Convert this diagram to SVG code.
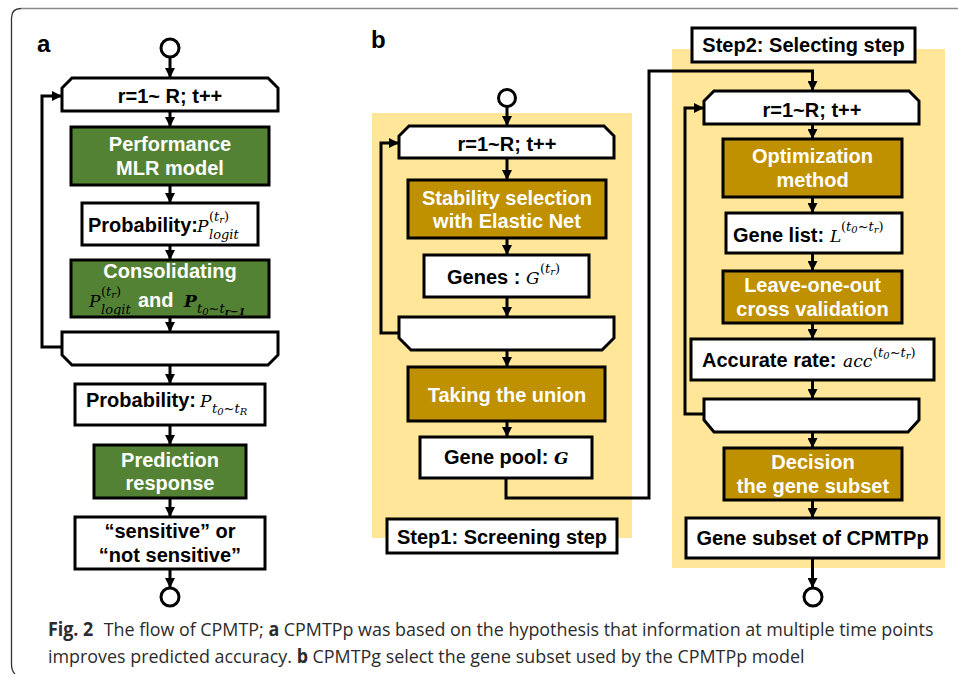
<svg xmlns="http://www.w3.org/2000/svg" width="958" height="674" viewBox="0 0 958 674">
<defs>
<style>
.t{font-family:"Liberation Sans",Arial,sans-serif;font-weight:bold;font-size:20px;text-anchor:middle;fill:#000}
.w{fill:#fff}
.s{text-anchor:start}
.m{font-family:"DejaVu Serif","Liberation Serif",serif;font-style:italic;fill:#000}
.n{font-style:normal}
.box{stroke:#000;stroke-width:3}
.wb{fill:#fff}
.gr{fill:#548235}
.gd{fill:#BF9000}
.bg{fill:#FFE699}
.c{fill:none;stroke:#000;stroke-width:3;marker-end:url(#ah)}
.cap{font-family:"Open Sans","Noto Sans",sans-serif;font-size:19px;fill:#2b2b2b}
.lbl{font-family:"Liberation Sans",Arial,sans-serif;font-weight:bold;font-size:24px;fill:#000}
</style>
<marker id="ah" markerUnits="userSpaceOnUse" markerWidth="10" markerHeight="10" refX="10" refY="5" orient="auto">
<path d="M0,0 L10,5 L0,10 z" fill="#000"/>
</marker>
</defs>

<g id="frame" fill="none">
<path d="M958,8.5 H21" stroke="#8a8a8a" stroke-width="1.3"/>
<path d="M21,8.5 Q11.5,8.5 11.5,18 V664 Q11.5,671 15,674" stroke="#333" stroke-width="1.3"/>
</g>

<g id="backgrounds">
<rect id="step1-bg" class="bg" x="372" y="113" width="260" height="425"/>
<rect id="step2-bg" class="bg" x="672" y="49" width="273" height="519"/>
</g>

<text class="lbl" x="37" y="52">a</text>
<text class="lbl" x="371" y="48">b</text>

<g id="connectors">
<path class="c" d="M170,57 V78"/>
<path class="c" d="M170,111 V127"/>
<path class="c" d="M170,185 V203"/>
<path class="c" d="M170,245 V260"/>
<path class="c" d="M170,317 V332"/>
<path class="c" d="M170,365 V384"/>
<path class="c" d="M170,425 V445"/>
<path class="c" d="M170,498 V517"/>
<path class="c" d="M170,569 V588"/>
<path class="c" d="M62,347 H42 V96 H62"/>

<path class="c" d="M507,107 V126"/>
<path class="c" d="M507,158 V180"/>
<path class="c" d="M507,238 V255"/>
<path class="c" d="M507,297 V317"/>
<path class="c" d="M507,350 V367"/>
<path class="c" d="M507,421 V437"/>
<path class="c" d="M506,478 V498 H649 V71 H812.5 V91"/>
<path class="c" d="M399,333 H381 V143 H399"/>

<path class="c" d="M812.5,124 V139"/>
<path class="c" d="M812.5,197 V213"/>
<path class="c" d="M812.5,253 V271"/>
<path class="c" d="M812.5,323 V339"/>
<path class="c" d="M812.5,380 V399"/>
<path class="c" d="M812.5,432 V448"/>
<path class="c" d="M812.5,500 V518"/>
<path class="c" d="M812.5,558 V588"/>
<path class="c" d="M704,414 H685 V108 H704"/>
</g>

<!-- Panel a -->
<g id="a-start"><circle class="box wb" cx="170" cy="48" r="9"/></g>
<g id="a-loop-start">
<polygon class="box wb" points="72,78 268,78 278,88 278,111 62,111 62,88"/>
<text class="t" x="170" y="103">r=1~ R; t++</text>
</g>
<g id="a-mlr">
<rect class="box gr" x="71" y="127" width="198" height="58"/>
<text class="t w" x="170" y="151">Performance</text>
<text class="t w" x="170" y="175">MLR model</text>
</g>
<g id="a-prob-logit">
<rect class="box wb" x="82" y="203" width="176" height="42"/>
<text class="t s" x="88" y="232" font-size="17.5">Probability:</text>
<text class="m" x="197" y="232" font-size="17">P</text>
<text class="m" x="209" y="221" font-size="13"><tspan class="n">(</tspan>t<tspan font-size="10" dy="2">r</tspan><tspan class="n" dy="-2">)</tspan></text>
<text class="m" x="209" y="239" font-size="13">logit</text>
</g>
<g id="a-consolidating">
<rect class="box gr" x="71" y="260" width="198" height="57"/>
<text class="t w" x="170" y="278">Consolidating</text>
<text class="m" x="89" y="307" font-size="17" fill="#fff">P</text>
<text class="m" x="101" y="296" font-size="13" fill="#fff"><tspan class="n">(</tspan>t<tspan font-size="10" dy="2">r</tspan><tspan class="n" dy="-2">)</tspan></text>
<text class="m" x="101" y="314" font-size="13" fill="#fff">logit</text>
<text class="t w s" x="138" y="307">and</text>
<text class="m" x="184" y="307" font-size="17" font-weight="bold" fill="#fff">P</text>
<text class="m" x="197" y="313" font-size="13" fill="#fff">t<tspan font-size="10" dy="2">0</tspan><tspan dy="-2">~t</tspan><tspan font-size="10" dy="2" font-weight="bold">r−1</tspan></text>
</g>
<g id="a-loop-end">
<polygon class="box wb" points="62,332 278,332 278,355 268,365 72,365 62,355"/>
</g>
<g id="a-prob-total">
<rect class="box wb" x="75" y="384" width="190" height="41"/>
<text class="t s" x="86" y="407" font-size="19.5">Probability:</text>
<text class="m" x="200" y="407" font-size="17">P</text>
<text class="m" x="212" y="413" font-size="13">t<tspan font-size="10" dy="2">0</tspan><tspan dy="-2">~t</tspan><tspan font-size="10" dy="2">R</tspan></text>
</g>
<g id="a-prediction">
<rect class="box gr" x="94" y="445" width="152" height="53"/>
<text class="t w" x="170" y="467">Prediction</text>
<text class="t w" x="170" y="490">response</text>
</g>
<g id="a-result">
<rect class="box wb" x="75" y="517" width="190" height="52"/>
<text class="t" x="170" y="538">“sensitive” or</text>
<text class="t" x="170" y="562">“not sensitive”</text>
</g>
<g id="a-end"><circle class="box wb" cx="170" cy="597" r="9"/></g>

<!-- Panel b step 1 -->
<g id="b-start"><circle class="box wb" cx="507" cy="98" r="8.5"/></g>
<g id="b1-loop-start">
<polygon class="box wb" points="409,126 604,126 614,136 614,158 399,158 399,136"/>
<text class="t" x="507" y="151">r=1~R; t++</text>
</g>
<g id="b1-stability">
<rect class="box gd" x="408" y="180" width="198" height="58"/>
<text class="t w" x="507" y="205">Stability selection</text>
<text class="t w" x="507" y="228">with Elastic Net</text>
</g>
<g id="b1-genes">
<rect class="box wb" x="424" y="255" width="165" height="42"/>
<text class="t s" x="447" y="284">Genes :</text>
<text class="m" x="526" y="284" font-size="17">G</text>
<text class="m" x="540" y="273" font-size="13"><tspan class="n">(</tspan>t<tspan font-size="10" dy="2">r</tspan><tspan class="n" dy="-2">)</tspan></text>
</g>
<g id="b1-loop-end">
<polygon class="box wb" points="399,317 614,317 614,338 602,350 411,350 399,338"/>
</g>
<g id="b1-union">
<rect class="box gd" x="408" y="367" width="197" height="54"/>
<text class="t w" x="507" y="402">Taking the union</text>
</g>
<g id="b1-pool">
<rect class="box wb" x="420" y="437" width="172" height="41"/>
<text class="t s" x="444" y="464">Gene pool:</text>
<text class="m" x="554" y="464" font-size="17" font-weight="bold">G</text>
</g>
<g id="b1-label">
<rect class="box wb" x="387" y="519" width="230" height="34"/>
<text class="t" x="502" y="544">Step1: Screening step</text>
</g>

<!-- Panel b step 2 -->
<g id="b2-label">
<rect class="box wb" x="692" y="28" width="223" height="34"/>
<text class="t" x="803.5" y="52">Step2: Selecting step</text>
</g>
<g id="b2-loop-start">
<polygon class="box wb" points="714,91 909,91 919,101 919,124 704,124 704,101"/>
<text class="t" x="812" y="117">r=1~R; t++</text>
</g>
<g id="b2-optimization">
<rect class="box gd" x="723" y="139" width="179" height="58"/>
<text class="t w" x="812.5" y="163">Optimization</text>
<text class="t w" x="812.5" y="187">method</text>
</g>
<g id="b2-genelist">
<rect class="box wb" x="726" y="213" width="176" height="40"/>
<text class="t s" x="733" y="242">Gene list:</text>
<text class="m" x="830" y="242" font-size="17">L</text>
<text class="m" x="841" y="231" font-size="13"><tspan class="n">(</tspan>t<tspan font-size="10" dy="2">0</tspan><tspan dy="-2">~t</tspan><tspan font-size="10" dy="2">r</tspan><tspan class="n" dy="-2">)</tspan></text>
</g>
<g id="b2-loocv">
<rect class="box gd" x="723" y="271" width="179" height="52"/>
<text class="t w" x="812.5" y="292">Leave-one-out</text>
<text class="t w" x="812.5" y="316">cross validation</text>
</g>
<g id="b2-accuracy">
<rect class="box wb" x="691" y="339" width="243" height="41"/>
<text class="t s" x="702" y="367">Accurate rate:</text>
<text class="m" x="843" y="367" font-size="17">acc</text>
<text class="m" x="873" y="357" font-size="13"><tspan class="n">(</tspan>t<tspan font-size="10" dy="2">0</tspan><tspan dy="-2">~t</tspan><tspan font-size="10" dy="2">r</tspan><tspan class="n" dy="-2">)</tspan></text>
</g>
<g id="b2-loop-end">
<polygon class="box wb" points="704,399 919,399 919,420 908,432 714,432 704,420"/>
</g>
<g id="b2-decision">
<rect class="box gd" x="724" y="448" width="178" height="52"/>
<text class="t w" x="813" y="469">Decision</text>
<text class="t w" x="813" y="493">the gene subset</text>
</g>
<g id="b2-subset">
<rect class="box wb" x="686" y="518" width="253" height="40"/>
<text class="t" x="812.5" y="545">Gene subset of CPMTPp</text>
</g>
<g id="b2-end"><circle class="box wb" cx="813" cy="597" r="9"/></g>

<g id="caption" transform="translate(48,0) scale(0.942,1)">
<text class="cap" x="0" y="636"><tspan font-weight="bold">Fig. 2</tspan><tspan dx="6"> The flow of CPMTP; </tspan><tspan font-weight="bold">a</tspan> CPMTPp was based on the hypothesis that information at multiple time points</text>
<text class="cap" x="0" y="663">improves predicted accuracy. <tspan font-weight="bold">b</tspan> CPMTPg select the gene subset used by the CPMTPp model</text>
</g>
</svg>
